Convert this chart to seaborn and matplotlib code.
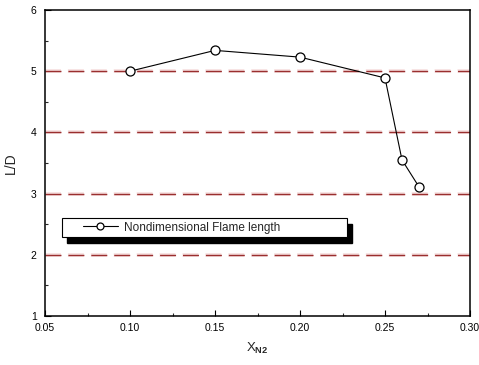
import matplotlib
matplotlib.use("Agg")
import matplotlib.pyplot as plt
import seaborn as sns
import pandas as pd
from matplotlib.ticker import MultipleLocator, FormatStrFormatter
from matplotlib.patches import Rectangle

x_n2 = [0.10, 0.15, 0.20, 0.25, 0.26, 0.27]
ld = [5.00, 5.34, 5.23, 4.89, 3.55, 3.11]
ref_levels = [2, 3, 4, 5]
series_label = "Nondimensional Flame length"

sns.set_style("ticks")
plt.rcParams['font.family'] = ['Liberation Sans', 'DejaVu Sans']
plt.rcParams['mathtext.fontset'] = 'custom'
plt.rcParams['mathtext.rm'] = 'Liberation Sans'
plt.rcParams['mathtext.bf'] = 'Liberation Sans:bold'

df = pd.DataFrame({"x": x_n2, "y": ld})

fig = plt.figure(figsize=(4.79, 3.65), dpi=100)
ax = fig.add_axes([45/479, 1 - 316/365, 425/479, 306/365])

for lv in ref_levels:
    ax.axhline(lv, color="#f6dede", lw=2.6, dashes=(11.5/2.6, 5/2.6), zorder=1)
    ax.axhline(lv, color="#9a2f2f", lw=1.0, dashes=(11.5, 5), zorder=1.5)

sns.lineplot(data=df, x="x", y="y", ax=ax, color="black", lw=0.8,
             marker="o", markersize=6.5, markerfacecolor="white",
             markeredgecolor="black", markeredgewidth=0.9,
             label=series_label, zorder=3)

ax.set_xlim(0.05, 0.30)
ax.set_ylim(1, 6)
ax.xaxis.set_major_locator(MultipleLocator(0.05))
ax.xaxis.set_minor_locator(MultipleLocator(0.025))
ax.yaxis.set_major_locator(MultipleLocator(1))
ax.yaxis.set_minor_locator(MultipleLocator(0.5))
ax.xaxis.set_major_formatter(FormatStrFormatter("%.2f"))
ax.tick_params(which="major", direction="in", length=4, width=0.8,
               labelsize=7.5, colors="black")
ax.tick_params(axis="y", which="major", pad=6)
ax.tick_params(axis="x", which="major", pad=5)
ax.tick_params(which="minor", direction="in", length=2.5, width=0.8)
for s in ax.spines.values():
    s.set_visible(True)
    s.set_linewidth(1.1)
    s.set_color("black")

ax.set_xlabel(r"X$_{\mathbf{N2}}$", fontsize=9.5, labelpad=6)
ax.set_ylabel("L/D", fontsize=10, labelpad=9)

# legend box with solid shadow
bx, by, bw, bh = 0.04, 0.258, 0.671, 0.062
ax.add_patch(Rectangle((bx + 0.0118, by - 0.0196), bw, bh, transform=ax.transAxes,
                       facecolor="black", edgecolor="black", zorder=4, clip_on=False))
ax.add_patch(Rectangle((bx, by), bw, bh, transform=ax.transAxes,
                       facecolor="white", edgecolor="black", lw=0.8, zorder=4.5,
                       clip_on=False))

leg = ax.legend(loc="center left", bbox_to_anchor=((83 - 45) / 425, (316 - 227.5) / 306),
                frameon=False, fontsize=8.5, handlelength=2.96, borderpad=0,
                handletextpad=0.55, borderaxespad=0)
leg.set_zorder(5)
for h in leg.legend_handles:
    h.set_markersize(5)
    h.set_linewidth(0.8)

fig.savefig("out.png", dpi=100)
